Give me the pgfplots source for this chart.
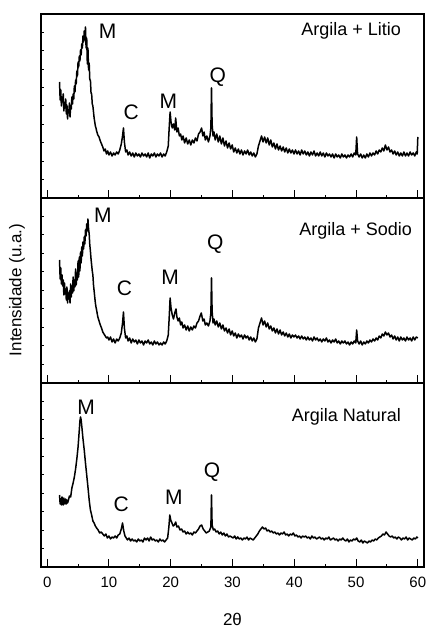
\documentclass[border=0pt]{standalone}
\usepackage{fontspec}
\setmainfont{Liberation Sans}
\usepackage{pgfplots}
\pgfplotsset{compat=1.18}

\pgfplotsset{
  xrd/.style={
    scale only axis, width=191.5pt,
    xmin=-1, xmax=61, ymin=0,
    xtick={0,10,...,60}, minor xtick={5,15,...,55},
    minor y tick num=9,
    xtick pos=left, ytick pos=left,
    tick align=inside,
    major tick length=3.8pt, minor tick length=1.5pt,
    axis line style={line width=0.6pt},
    every tick/.style={black, line width=0.5pt},
    tick label style={font=\fontsize{7.5}{9}\selectfont},
    yticklabels={},
    /pgf/number format/assume math mode=true,
    anchor=south west,
  },
}
\tikzset{
  pk/.style={font=\fontsize{10.5}{12}\selectfont},
  nm/.style={font=\fontsize{9}{11}\selectfont, anchor=base east},
  curve/.style={black, line width=0.75pt, line join=round},
}

\begin{document}
\begin{tikzpicture}
\useasboundingbox (0,0) rectangle (213pt,313pt);

% Argila + Litio
\begin{axis}[xrd, height=92pt, ymax=184, ytick={0,184}, at={(20.5pt,214pt)}, xticklabels={}]
\addplot[curve, mark=none] coordinates {
(2.0,116)(2.1,98)(2.2,108)(2.3,92)(2.4,101)(2.5,96)(2.6,104)(2.7,87)(2.8,95)(2.9,90)(3.0,99)(3.1,84)(3.2,93)(3.3,79)(3.4,88)(3.5,85)(3.6,95)(3.7,81)(3.8,92)(3.9,89)
(4.0,101)(4.1,94)(4.2,104)(4.3,99)(4.4,112)(4.5,106)(4.6,118)(4.7,114)(4.8,127)(4.9,122)(5.0,136)(5.1,131)(5.2,142)(5.3,137)(5.4,148)(5.5,143)(5.6,154)(5.7,150)(5.8,162)(5.9,156)
(6.0,167)(6.1,158)(6.2,171)(6.3,150)(6.4,160)(6.5,134)(6.6,150)(6.7,128)(6.8,135)(6.9,118)(7.0,118)(7.1,105)(7.2,104)(7.3,94)(7.4,92)(7.5,86)(7.6,80)(7.7,76)(7.8,72)(7.9,70)
(8.0,67)(8.2,63)(8.4,61)(8.6,57)(8.8,54)(9.0,51)(9.2,47)(9.4,49)(9.6,44)(9.8,47)(10.0,43)(10.25,46)(10.5,42)(10.75,45)(11.0,43)(11.25,46)(11.5,44)(11.75,48)
(12.0,54)(12.2,62)(12.35,70)(12.5,56)(12.7,46)(12.9,48)(13.1,43)(13.35,46)(13.6,42)(13.85,45)(14.1,41)(14.35,45)(14.6,42)(14.85,44)(15.1,41)(15.35,45)(15.6,42)(15.85,44)
(16.1,41)(16.35,45)(16.6,40)(16.85,44)(17.1,42)(17.35,45)(17.6,41)(17.85,44)(18.1,42)(18.35,45)(18.6,41)(18.85,44)(19.1,42)(19.35,46)(19.6,52)(19.75,70)(19.9,86)
(20.05,76)(20.25,70)(20.45,74)(20.65,68)(20.8,80)(21.0,66)(21.2,70)(21.4,62)(21.6,64)(21.8,58)(22.0,62)(22.25,55)(22.5,60)(22.75,54)(23.0,58)(23.25,53)(23.5,58)(23.75,55)
(24.0,60)(24.25,57)(24.5,64)(24.75,66)(25.0,70)(25.2,62)(25.4,66)(25.6,58)(25.85,62)(26.1,56)(26.35,62)(26.5,70)(26.6,110)(26.7,74)(26.85,62)(27.0,66)(27.2,58)(27.45,64)
(27.7,56)(27.95,62)(28.2,54)(28.45,60)(28.7,52)(28.95,57)(29.2,50)(29.45,55)(29.7,49)(29.95,53)(30.2,46)(30.45,50)(30.7,45)(30.95,49)(31.2,44)(31.45,48)(31.7,43)(31.95,47)
(32.2,44)(32.45,48)(32.7,43)(32.95,46)(33.2,42)(33.45,45)(33.7,41)(33.95,44)(34.2,52)(34.45,57)(34.7,62)(34.95,56)(35.2,61)(35.45,55)(35.7,60)(35.95,53)(36.2,58)(36.45,51)
(36.7,55)(36.95,49)(37.2,54)(37.45,48)(37.7,52)(37.95,47)(38.2,51)(38.45,46)(38.7,50)(38.95,45)(39.2,49)(39.45,45)(39.7,48)(39.95,44)(40.2,48)(40.45,44)(40.7,47)(40.95,43)
(41.2,48)(41.45,44)(41.7,47)(41.95,43)(42.2,46)(42.45,42)(42.7,46)(42.95,43)(43.2,47)(43.45,42)(43.7,45)(43.95,42)(44.2,46)(44.45,42)(44.7,45)(44.95,41)(45.2,45)(45.45,42)
(45.7,44)(45.95,41)(46.2,44)(46.45,40)(46.7,44)(46.95,41)(47.2,43)(47.45,40)(47.7,44)(47.95,41)(48.2,43)(48.45,40)(48.7,43)(48.95,41)(49.2,44)(49.45,41)(49.7,45)(49.95,43)
(50.1,61)(50.25,44)(50.5,41)(50.75,44)(51.0,40)(51.25,43)(51.5,40)(51.75,44)(52.0,41)(52.25,45)(52.5,42)(52.75,45)(53.0,43)(53.25,47)(53.5,44)(53.75,48)(54.0,46)(54.25,50)
(54.5,47)(54.75,53)(55.0,48)(55.25,51)(55.5,46)(55.75,48)(56.0,44)(56.25,47)(56.5,43)(56.75,46)(57.0,42)(57.25,45)(57.5,42)(57.75,46)(58.0,42)(58.25,45)(58.5,42)(58.75,46)
(59.0,43)(59.25,45)(59.5,42)(59.75,46)(59.9,44)(60.0,61)
};
\node[pk] at (9.8,167) {M};
\node[pk] at (13.6,86) {C};
\node[pk] at (19.6,97) {M};
\node[pk] at (27.6,121) {Q};
\node[nm] at (58.4,162) {Argila + Litio};
\end{axis}
% top ticks of the upper panel
\begin{axis}[scale only axis, width=191.5pt, height=92pt, at={(20.5pt,214pt)}, anchor=south west,
  xmin=-1, xmax=61, ymin=0, ymax=184, xtick=\empty, ytick=\empty,
  minor xtick={0,5,...,60}, xtick pos=right, tick align=inside, minor tick length=1.2pt,
  axis line style={line width=0.6pt}, every tick/.style={black, line width=0.5pt}]
\end{axis}

% Argila + Sodio
\begin{axis}[xrd, height=92.5pt, ymax=185, ytick={0,185}, at={(20.5pt,121.5pt)}, xticklabels={}]
\addplot[curve, mark=none] coordinates {
(2.0,123)(2.1,104)(2.2,115)(2.3,99)(2.4,108)(2.5,97)(2.6,103)(2.7,88)(2.8,100)(2.9,89)(3.0,94)(3.1,83)(3.2,96)(3.3,80)(3.4,90)(3.5,84)(3.6,92)(3.7,80)(3.8,99)(3.9,86)
(4.0,97)(4.1,90)(4.2,106)(4.3,92)(4.4,103)(4.5,96)(4.6,114)(4.7,98)(4.8,110)(4.9,103)(5.0,122)(5.1,106)(5.2,126)(5.3,112)(5.4,131)(5.5,120)(5.6,136)(5.7,127)(5.8,141)(5.9,134)
(6.0,146)(6.1,139)(6.2,153)(6.3,147)(6.4,159)(6.5,152)(6.6,164)(6.7,154)(6.8,149)(6.9,138)(7.0,132)(7.1,124)(7.2,118)(7.3,112)(7.4,108)(7.5,98)(7.6,92)(7.7,86)(7.8,80)(7.9,76)
(8.0,73)(8.2,66)(8.4,62)(8.6,58)(8.8,55)(9.0,51)(9.2,49)(9.4,47)(9.6,45)(9.8,46)(10.0,43)(10.25,46)(10.5,41)(10.75,44)(11.0,40)(11.25,44)(11.5,42)(11.75,45)
(12.0,50)(12.2,60)(12.35,71)(12.5,55)(12.7,45)(12.9,47)(13.1,42)(13.35,45)(13.6,40)(13.85,44)(14.1,41)(14.35,43)(14.6,39)(14.85,43)(15.1,40)(15.35,42)(15.6,38)(15.85,42)
(16.1,40)(16.35,43)(16.6,39)(16.85,41)(17.1,38)(17.35,42)(17.6,39)(17.85,41)(18.1,38)(18.35,40)(18.6,38)(18.85,41)(19.1,39)(19.35,42)(19.6,48)(19.75,65)(19.9,85)
(20.05,75)(20.25,68)(20.45,64)(20.65,70)(20.85,74)(21.0,66)(21.2,62)(21.4,65)(21.6,58)(21.8,61)(22.0,55)(22.25,58)(22.5,53)(22.75,57)(23.0,52)(23.25,56)(23.5,53)(23.75,57)
(24.0,55)(24.25,60)(24.5,62)(24.75,67)(24.95,70)(25.2,62)(25.4,64)(25.6,58)(25.85,60)(26.1,57)(26.35,62)(26.5,70)(26.6,105)(26.7,72)(26.85,60)(27.0,64)(27.2,58)(27.45,62)
(27.7,56)(27.95,60)(28.2,54)(28.45,58)(28.7,52)(28.95,55)(29.2,50)(29.45,54)(29.7,48)(29.95,52)(30.2,47)(30.45,50)(30.7,45)(30.95,49)(31.2,46)(31.45,48)(31.7,44)(31.95,48)
(32.2,45)(32.45,47)(32.7,43)(32.95,46)(33.2,42)(33.45,45)(33.7,41)(33.95,44)(34.2,55)(34.45,60)(34.7,65)(34.95,58)(35.2,62)(35.45,56)(35.7,60)(35.95,54)(36.2,57)(36.45,52)
(36.7,55)(36.95,50)(37.2,54)(37.45,49)(37.7,53)(37.95,48)(38.2,51)(38.45,47)(38.7,50)(38.95,46)(39.2,49)(39.45,45)(39.7,48)(39.95,46)(40.2,48)(40.45,45)(40.7,47)(40.95,44)
(41.2,47)(41.45,44)(41.7,46)(41.95,43)(42.2,46)(42.45,43)(42.7,45)(42.95,42)(43.2,46)(43.45,43)(43.7,45)(43.95,42)(44.2,44)(44.45,41)(44.7,44)(44.95,42)(45.2,45)(45.45,41)
(45.7,43)(45.95,40)(46.2,43)(46.45,41)(46.7,44)(46.95,40)(47.2,42)(47.45,39)(47.7,42)(47.95,40)(48.2,42)(48.45,39)(48.7,41)(48.95,38)(49.2,41)(49.45,39)(49.7,42)(49.95,40)
(50.1,53)(50.25,42)(50.5,39)(50.75,42)(51.0,38)(51.25,41)(51.5,39)(51.75,42)(52.0,40)(52.25,43)(52.5,41)(52.75,44)(53.0,42)(53.25,45)(53.5,43)(53.75,47)(54.0,45)(54.25,49)
(54.5,47)(54.75,51)(55.0,48)(55.25,50)(55.5,46)(55.75,48)(56.0,44)(56.25,47)(56.5,43)(56.75,46)(57.0,42)(57.25,46)(57.5,43)(57.75,45)(58.0,42)(58.25,46)(58.5,43)(58.75,45)
(59.0,42)(59.25,46)(59.5,43)(59.75,46)(60.0,45)
};
\node[pk] at (9.0,168) {M};
\node[pk] at (12.5,95) {C};
\node[pk] at (19.9,106) {M};
\node[pk] at (27.2,139) {Q};
\node[nm] at (60.2,147) {Argila + Sodio};
\end{axis}

% Argila Natural
\begin{axis}[xrd, height=92pt, ymax=184, ytick={0,184}, at={(20.5pt,29.5pt)},
  xticklabel style={yshift=-1.5pt}]
\addplot[curve, mark=none] coordinates {
(2.0,72)(2.1,63)(2.2,68)(2.3,62)(2.4,70)(2.5,64)(2.6,62)(2.7,69)(2.8,65)(2.9,63)(3.0,68)(3.1,63)(3.2,67)(3.3,64)(3.4,66)(3.6,71)(3.8,70)(4.0,79)(4.2,84)(4.4,90)(4.6,98)(4.8,108)(5.0,120)(5.2,137)(5.3,146)(5.4,150)(5.5,147)
(5.6,141)(5.8,128)(6.0,117)(6.2,104)(6.4,92)(6.6,80)(6.8,67)(7.0,57)(7.2,52)(7.4,46)(7.6,44)(7.8,41)(8.0,39)(8.25,37)(8.5,34)(8.75,35)(9.0,33)(9.25,31)(9.5,33)(9.75,29)
(10.0,31)(10.25,28)(10.5,30)(10.75,29)(11.0,31)(11.25,29)(11.5,32)(11.75,33)(12.0,38)(12.2,44)(12.4,36)(12.6,31)(12.8,29)(13.0,27)(13.25,29)(13.5,26)(13.75,28)(14.0,26)
(14.25,27)(14.5,25)(14.75,28)(15.0,26)(15.25,27)(15.5,25)(15.75,29)(16.0,27)(16.25,29)(16.5,26)(16.75,30)(17.0,27)(17.25,28)(17.5,26)(17.75,27)(18.0,25)(18.25,28)(18.5,26)
(18.75,27)(19.0,25)(19.25,27)(19.5,29)(19.7,40)(19.85,52)(20.0,47)(20.2,44)(20.4,41)(20.6,42)(20.8,45)(21.0,40)(21.25,41)(21.5,37)(21.75,38)(22.0,35)(22.25,36)(22.5,33)
(22.75,35)(23.0,33)(23.25,34)(23.5,32)(23.75,35)(24.0,34)(24.25,36)(24.5,38)(24.75,41)(25.0,42)(25.25,38)(25.5,36)(25.75,34)(26.0,35)(26.25,36)(26.5,40)(26.6,72)(26.7,42)
(26.9,37)(27.1,38)(27.35,35)(27.6,36)(27.85,33)(28.1,35)(28.35,32)(28.6,34)(28.85,31)(29.1,33)(29.35,30)(29.6,31)(29.85,30)(30.1,29)(30.35,31)(30.6,28)(30.85,30)(31.1,28)
(31.35,29)(31.6,27)(31.85,29)(32.1,28)(32.35,30)(32.6,27)(32.85,29)(33.1,28)(33.35,27)(33.6,29)(33.85,31)(34.1,33)(34.35,36)(34.6,38)(34.85,40)(35.1,38)(35.35,39)(35.6,36)
(35.85,37)(36.1,35)(36.35,36)(36.6,34)(36.85,35)(37.1,33)(37.35,34)(37.6,32)(37.85,34)(38.1,33)(38.35,35)(38.6,32)(38.85,33)(39.1,31)(39.35,33)(39.6,32)(39.85,34)(40.1,31)
(40.35,32)(40.6,30)(40.85,31)(41.1,29)(41.35,31)(41.6,30)(41.85,31)(42.1,29)(42.35,30)(42.6,28)(42.85,31)(43.1,29)(43.35,30)(43.6,28)(43.85,29)(44.1,30)(44.35,28)(44.6,29)
(44.85,27)(45.1,29)(45.35,28)(45.6,30)(45.85,27)(46.1,28)(46.35,29)(46.6,27)(46.85,28)(47.1,26)(47.35,28)(47.6,27)(47.85,29)(48.1,27)(48.35,26)(48.6,28)(48.85,25)(49.1,27)
(49.35,26)(49.6,28)(49.85,27)(50.1,29)(50.35,26)(50.6,25)(50.85,27)(51.1,24)(51.35,26)(51.6,25)(51.85,24)(52.1,26)(52.35,25)(52.6,27)(52.85,26)(53.1,28)(53.35,27)(53.6,29)
(53.85,30)(54.1,31)(54.35,33)(54.6,32)(54.85,35)(55.1,33)(55.35,31)(55.6,30)(55.85,31)(56.1,29)(56.35,30)(56.6,28)(56.85,30)(57.1,29)(57.35,27)(57.6,29)(57.85,28)(58.1,30)
(58.35,27)(58.6,29)(58.85,28)(59.1,27)(59.35,29)(59.6,28)(59.85,30)(60.0,29)
};
\node[pk] at (6.3,160) {M};
\node[pk] at (12.0,63) {C};
\node[pk] at (20.5,70) {M};
\node[pk] at (26.7,95) {Q};
\node[nm] at (58.4,145) {Argila Natural};
\end{axis}

\node[rotate=90, font=\fontsize{8.5}{10}\selectfont] at (8.5pt,168pt) {Intensidade (u.a.)};
\node[font=\fontsize{8.5}{10}\selectfont] at (116.25pt,3.5pt) {2θ};
\end{tikzpicture}
\end{document}
